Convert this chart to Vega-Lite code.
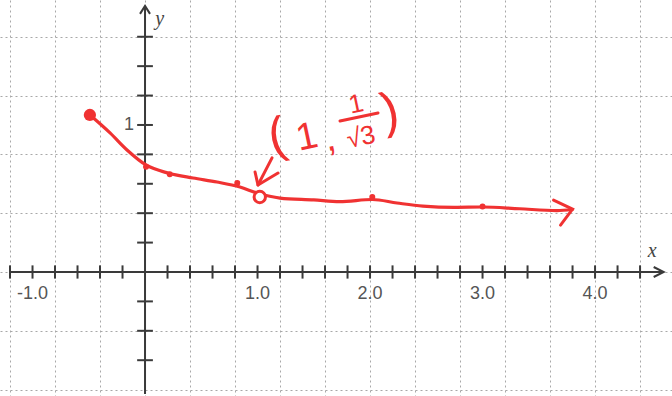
{
  "$schema": "https://vega.github.io/schema/vega-lite/v6.json",
  "width": 672,
  "height": 396,
  "autosize": {"type": "none"},
  "padding": 0,
  "background": "#ffffff",
  "config": {"view": {"stroke": null}},
  "datasets": {
    "xticks": [{"t": -1.2}, {"t": -1.0}, {"t": -0.8}, {"t": -0.6}, {"t": -0.4}, {"t": -0.2}, {"t": 0.2}, {"t": 0.4}, {"t": 0.6}, {"t": 0.8}, {"t": 1.0}, {"t": 1.2}, {"t": 1.4}, {"t": 1.6}, {"t": 1.8}, {"t": 2.0}, {"t": 2.2}, {"t": 2.4}, {"t": 2.6}, {"t": 2.8}, {"t": 3.0}, {"t": 3.2}, {"t": 3.4}, {"t": 3.6}, {"t": 3.8}, {"t": 4.0}, {"t": 4.2}, {"t": 4.4}],
    "yticks": [{"t": -0.6}, {"t": -0.4}, {"t": -0.2}, {"t": 0.2}, {"t": 0.4}, {"t": 0.6}, {"t": 0.8}, {"t": 1.0}, {"t": 1.2}, {"t": 1.4}, {"t": 1.6}],
    "xlabels": [{"v": -1.0, "label": "-1.0"}, {"v": 1.0, "label": "1.0"}, {"v": 2.0, "label": "2.0"}, {"v": 3.0, "label": "3.0"}, {"v": 4.0, "label": "4.0"}],
    "curve": [
      {"x": -0.49, "y": 1.068},
      {"x": -0.311, "y": 0.946},
      {"x": -0.16, "y": 0.83},
      {"x": 0.009, "y": 0.728},
      {"x": 0.204, "y": 0.673},
      {"x": 0.427, "y": 0.639},
      {"x": 0.64, "y": 0.612},
      {"x": 0.844, "y": 0.578},
      {"x": 1.004, "y": 0.535},
      {"x": 1.2, "y": 0.503},
      {"x": 1.5, "y": 0.49},
      {"x": 1.73, "y": 0.478},
      {"x": 2.02, "y": 0.493},
      {"x": 2.24, "y": 0.469},
      {"x": 2.47, "y": 0.448},
      {"x": 2.75, "y": 0.44},
      {"x": 3.0, "y": 0.442},
      {"x": 3.33, "y": 0.43},
      {"x": 3.66, "y": 0.418},
      {"x": 3.8, "y": 0.425}
    ],
    "dots": [{"x": 0.009, "y": 0.715}, {"x": 0.22, "y": 0.665}, {"x": 0.82, "y": 0.605}, {"x": 2.02, "y": 0.51}, {"x": 3.0, "y": 0.445}],
    "pointer": [
      {"g": "shaft", "o": 1, "x": 1.129, "y": 0.776},
      {"g": "shaft", "o": 2, "x": 1.004, "y": 0.592},
      {"g": "head", "o": 1, "x": 0.978, "y": 0.68},
      {"g": "head", "o": 2, "x": 1.004, "y": 0.592},
      {"g": "head", "o": 3, "x": 1.182, "y": 0.673},
      {"g": "bar", "o": 1, "x": 1.733, "y": 1.027},
      {"g": "bar", "o": 2, "x": 2.071, "y": 1.082}
    ]
  },
  "encoding": {
    "x": {"type": "quantitative", "scale": {"domain": [-1.289, 4.684], "nice": false, "zero": false}},
    "y": {"type": "quantitative", "scale": {"domain": [-0.8435, 1.85], "nice": false, "zero": false}}
  },
  "layer": [
    {
      "data": {"values": [{}]},
      "mark": {"type": "point", "opacity": 0},
      "encoding": {
        "x": {"datum": 0, "type": "quantitative", "axis": {"values": [-1.2, -1.0, -0.8, -0.6, -0.4, -0.2, 0, 0.2, 0.4, 0.6, 0.8, 1.0, 1.2, 1.4, 1.6, 1.8, 2.0, 2.2, 2.4, 2.6, 2.8, 3.0, 3.2, 3.4, 3.6, 3.8, 4.0, 4.2, 4.4, 4.6], "grid": true, "gridColor": "#a8a8a8", "gridDash": [2, 3], "gridWidth": 1, "labels": false, "ticks": false, "domain": false, "title": null}},
        "y": {"datum": 0, "type": "quantitative", "axis": {"values": [-0.8, -0.6, -0.4, -0.2, 0, 0.2, 0.4, 0.6, 0.8, 1.0, 1.2, 1.4, 1.6], "grid": true, "gridColor": "#a8a8a8", "gridDash": [2, 3], "gridWidth": 1, "labels": false, "ticks": false, "domain": false, "title": null}}
      }
    },
    {
      "data": {"values": [{}]},
      "mark": {"type": "rule", "color": "#3a3a3a", "strokeWidth": 2},
      "encoding": {"x": {"datum": -1.2}, "x2": {"datum": 4.61}, "y": {"datum": 0}}
    },
    {
      "data": {"values": [{}]},
      "mark": {"type": "rule", "color": "#3a3a3a", "strokeWidth": 2},
      "encoding": {"x": {"datum": 0}, "y": {"datum": -0.83}, "y2": {"datum": 1.81}}
    },
    {
      "data": {"name": "xticks"},
      "mark": {"type": "rule", "color": "#3a3a3a", "strokeWidth": 2},
      "encoding": {"x": {"field": "t", "type": "quantitative"}, "y": {"datum": -0.045}, "y2": {"datum": 0.045}}
    },
    {
      "data": {"name": "yticks"},
      "mark": {"type": "rule", "color": "#3a3a3a", "strokeWidth": 2},
      "encoding": {"y": {"field": "t", "type": "quantitative"}, "x": {"datum": -0.07}, "x2": {"datum": 0.07}}
    },
    {
      "data": {"values": [{}]},
      "mark": {"type": "point", "shape": "M-1,1.6L0,0L1,1.6", "filled": false, "size": 100, "stroke": "#3a3a3a", "strokeWidth": 2, "opacity": 1},
      "encoding": {"x": {"datum": 0}, "y": {"datum": 1.81}}
    },
    {
      "data": {"values": [{}]},
      "mark": {"type": "point", "shape": "M-2,-1L0,0L-2,1", "filled": false, "size": 100, "stroke": "#3a3a3a", "strokeWidth": 2, "opacity": 1},
      "encoding": {"x": {"datum": 4.61}, "y": {"datum": 0}}
    },
    {
      "data": {"name": "xlabels"},
      "mark": {"type": "text", "font": "Liberation Sans", "fontSize": 18, "color": "#555555", "baseline": "middle", "align": "center"},
      "encoding": {"x": {"field": "v", "type": "quantitative"}, "y": {"datum": -0.147}, "text": {"field": "label"}}
    },
    {
      "data": {"values": [{"label": "1"}]},
      "mark": {"type": "text", "font": "Liberation Sans", "fontSize": 18, "color": "#555555", "baseline": "middle", "align": "center"},
      "encoding": {"x": {"datum": -0.142}, "y": {"datum": 1.0}, "text": {"field": "label"}}
    },
    {
      "data": {"values": [{"label": "y"}]},
      "mark": {"type": "text", "font": "Liberation Serif", "fontStyle": "italic", "fontSize": 20, "color": "#444444", "baseline": "middle", "align": "center"},
      "encoding": {"x": {"datum": 0.13}, "y": {"datum": 1.72}, "text": {"field": "label"}}
    },
    {
      "data": {"values": [{"label": "x"}]},
      "mark": {"type": "text", "font": "Liberation Serif", "fontStyle": "italic", "fontSize": 20, "color": "#444444", "baseline": "middle", "align": "center"},
      "encoding": {"x": {"datum": 4.507}, "y": {"datum": 0.14}, "text": {"field": "label"}}
    },
    {
      "data": {"name": "curve"},
      "mark": {"type": "line", "color": "#f03232", "strokeWidth": 3.2, "interpolate": "monotone", "strokeCap": "round"},
      "encoding": {"x": {"field": "x", "type": "quantitative"}, "y": {"field": "y", "type": "quantitative"}}
    },
    {
      "data": {"values": [{}]},
      "mark": {"type": "point", "shape": "M-1.9,-0.9L0,0L-1.2,1.6", "filled": false, "size": 400, "stroke": "#f03232", "strokeWidth": 3, "opacity": 1, "strokeCap": "round"},
      "encoding": {"x": {"datum": 3.8}, "y": {"datum": 0.428}}
    },
    {
      "data": {"name": "dots"},
      "mark": {"type": "point", "shape": "circle", "filled": true, "size": 36, "color": "#f03232", "opacity": 1},
      "encoding": {"x": {"field": "x", "type": "quantitative"}, "y": {"field": "y", "type": "quantitative"}}
    },
    {
      "data": {"values": [{}]},
      "mark": {"type": "point", "shape": "circle", "filled": true, "size": 150, "color": "#f03232", "opacity": 1},
      "encoding": {"x": {"datum": -0.49}, "y": {"datum": 1.068}}
    },
    {
      "data": {"values": [{}]},
      "mark": {"type": "point", "shape": "circle", "filled": true, "size": 130, "fill": "#ffffff", "stroke": "#f03232", "strokeWidth": 3, "opacity": 1},
      "encoding": {"x": {"datum": 1.02}, "y": {"datum": 0.51}}
    },
    {
      "data": {"name": "pointer"},
      "mark": {"type": "line", "color": "#f03232", "strokeWidth": 3, "strokeCap": "round", "strokeJoin": "round"},
      "encoding": {"x": {"field": "x", "type": "quantitative"}, "y": {"field": "y", "type": "quantitative"}, "detail": {"field": "g"}, "order": {"field": "o"}}
    },
    {
      "data": {"values": [{"label": "("}]},
      "mark": {"type": "text", "font": "Liberation Sans", "fontSize": 50, "color": "#f03232", "angle": -12, "baseline": "middle", "align": "center"},
      "encoding": {"x": {"datum": 1.173}, "y": {"datum": 0.918}, "text": {"field": "label"}}
    },
    {
      "data": {"values": [{"label": "1"}]},
      "mark": {"type": "text", "font": "Liberation Sans", "fontSize": 38, "color": "#f03232", "angle": -12, "baseline": "middle", "align": "center"},
      "encoding": {"x": {"datum": 1.44}, "y": {"datum": 0.912}, "text": {"field": "label"}}
    },
    {
      "data": {"values": [{"label": ","}]},
      "mark": {"type": "text", "font": "Liberation Sans", "fontSize": 38, "color": "#f03232", "angle": -12, "baseline": "middle", "align": "center"},
      "encoding": {"x": {"datum": 1.644}, "y": {"datum": 0.9}, "text": {"field": "label"}}
    },
    {
      "data": {"values": [{"label": "1"}]},
      "mark": {"type": "text", "font": "Liberation Sans", "fontSize": 26, "color": "#f03232", "angle": -12, "baseline": "middle", "align": "center"},
      "encoding": {"x": {"datum": 1.876}, "y": {"datum": 1.14}, "text": {"field": "label"}}
    },
    {
      "data": {"values": [{"label": "√3"}]},
      "mark": {"type": "text", "font": "Liberation Sans", "fontSize": 26, "color": "#f03232", "angle": -12, "baseline": "middle", "align": "center"},
      "encoding": {"x": {"datum": 1.92}, "y": {"datum": 0.915}, "text": {"field": "label"}}
    },
    {
      "data": {"values": [{"label": ")"}]},
      "mark": {"type": "text", "font": "Liberation Sans", "fontSize": 50, "color": "#f03232", "angle": -12, "baseline": "middle", "align": "center"},
      "encoding": {"x": {"datum": 2.178}, "y": {"datum": 1.088}, "text": {"field": "label"}}
    }
  ]
}
